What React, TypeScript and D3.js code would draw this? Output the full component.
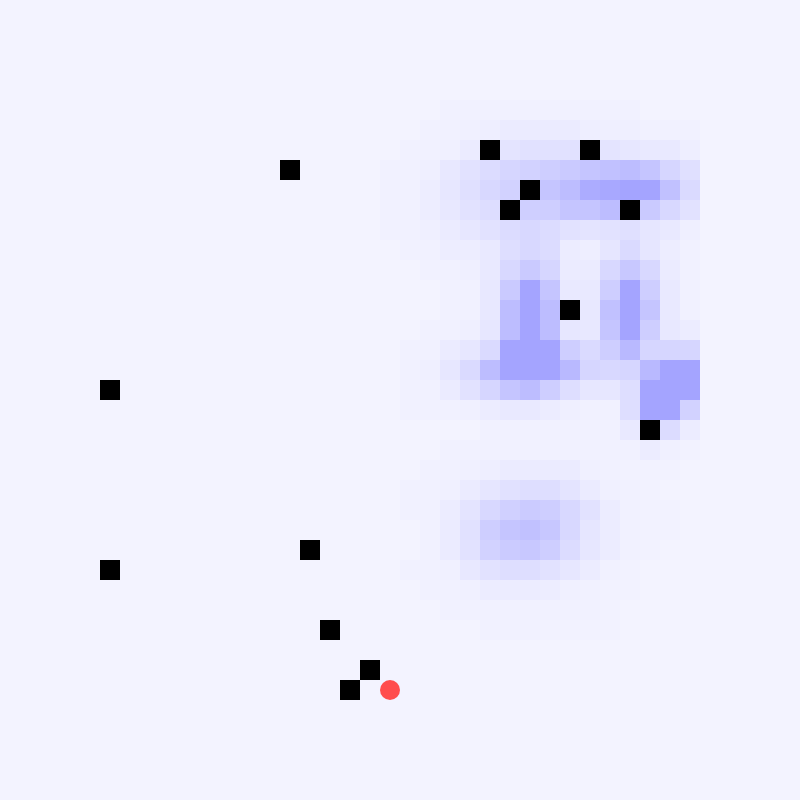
import { useEffect, useRef } from 'react';
import * as d3 from 'd3';

// grid is 40 x 40 cells
const gridCols = d3.range(40);
const gridRows = d3.range(40);

// heat block, starts at column 19, row 5 (values 0..10)
const heatColStart = 19;
const heatRowStart = 5;
const heatValues: number[][] = [
  [0, 0, 0, 0.3, 0.3, 0.3, 0.3, 0.3, 0.3, 0.3, 0.3, 0.3, 0.3, 0, 0, 0],
  [0, 0, 0.2, 0.3, 0.4, 0.6, 1, 1, 1, 1, 0.6, 0.5, 0.5, 0.3, 0.3, 0.3],
  [0, 0.2, 0.2, 0.4, 1, 1.8, 1.8, 2.2, 2.2, 2.2, 2, 1.8, 1.5, 1.2, 1.2, 0.6],
  [0.3, 0.3, 0.5, 1.3, 2, 2.8, 3.5, 4, 4.5, 5, 5.5, 6, 6.5, 5.5, 3.5, 2.3],
  [0.3, 0.3, 0.7, 1.5, 2.3, 3.2, 4, 4.5, 5.5, 6.5, 8.5, 9, 9.5, 9.5, 6, 3],
  [0.3, 0.3, 0.7, 1.3, 2, 2.7, 4, 4.3, 4.5, 5.5, 5.5, 6.5, 6, 5, 3.2, 2],
  [0.3, 0.3, 0.5, 1, 1.5, 2, 2.8, 3.2, 2.8, 2, 1.8, 2, 2.3, 1.6, 1.2, 0.5],
  [0, 0.3, 0.3, 0.7, 0.7, 1.2, 2.5, 3.3, 2.8, 0.8, 0.6, 1.6, 3, 1.6, 0.7, 0.3],
  [0, 0, 0.3, 0.3, 0.5, 1.2, 3.3, 5, 3.5, 1, 1, 3.3, 5.2, 3.3, 1, 0.3],
  [0, 0, 0, 0.2, 0.3, 1.3, 5, 9.5, 5.5, 1.2, 1.2, 4.5, 9.5, 4.5, 1.2, 0.3],
  [0, 0, 0, 0.2, 0.3, 1.3, 6.5, 9.5, 6.5, 1.5, 1.3, 6, 9.5, 5.5, 1.2, 0.3],
  [0, 0, 0.2, 0.3, 0.5, 1.5, 6.5, 9.5, 6.5, 1.5, 1.3, 5.5, 9.5, 4.5, 1.3, 0.8],
  [0, 0.2, 0.3, 1, 1.5, 3, 9.5, 9.5, 9.5, 4.5, 3, 4.5, 7, 3.5, 3.5, 3.5],
  [0, 0.2, 0.5, 1.5, 3, 6.5, 9.5, 9.5, 9.5, 7, 3.5, 3.3, 3.5, 7, 9.5, 9.5],
  [0, 0.2, 0.3, 1, 2, 3.5, 5.5, 6.5, 4.5, 2.5, 1.5, 1.5, 2.5, 9.5, 9.5, 9.5],
  [0, 0.2, 0.2, 0.3, 0.4, 0.8, 1.2, 1.2, 0.8, 0.5, 0.2, 0.3, 2.5, 9.5, 9.5, 4],
  [0, 0, 0, 0, 0, 0.2, 0.2, 0.2, 0.2, 0.2, 0.2, 0.2, 1.2, 3, 2.8, 0.8],
  [0, 0, 0, 0.2, 0.2, 0.2, 0.3, 0.3, 0.2, 0.2, 0.2, 0.2, 0.3, 0.8, 0.4, 0.1],
  [0, 0, 0.2, 0.3, 0.4, 0.6, 1, 1, 1, 1, 0.4, 0.2, 0.1, 0.1, 0.1, 0],
  [0, 0.2, 0.2, 0.4, 1, 1.6, 2.2, 2.5, 2.5, 1.8, 1, 0.4, 0.2, 0.1, 0, 0],
  [0, 0.2, 0.3, 0.8, 1.8, 3.2, 4.2, 4.8, 4.5, 3.2, 2, 0.8, 0.2, 0.1, 0.1, 0],
  [0, 0, 0.3, 1, 2.2, 4.5, 5.5, 6, 5.3, 3.3, 1.6, 0.8, 0.2, 0.1, 0.1, 0],
  [0, 0, 0.3, 1, 2, 4, 4.8, 5.2, 4.5, 2.8, 1.5, 0.8, 0.2, 0.1, 0, 0],
  [0, 0.2, 0.2, 0.4, 1.3, 2, 2.5, 2.5, 2, 1.5, 0.8, 0.2, 0.1, 0, 0, 0],
  [0, 0, 0.2, 0.2, 0.4, 0.8, 0.8, 0.8, 0.7, 0.4, 0.2, 0.1, 0.1, 0, 0, 0],
  [0, 0, 0, 0.2, 0.2, 0.3, 0.3, 0.3, 0.3, 0.2, 0.2, 0.1, 0, 0, 0, 0],
  [0, 0, 0, 0, 0, 0.2, 0.2, 0.2, 0.1, 0.1, 0.1, 0.1, 0, 0, 0, 0],
];

// black cells [col, row]
const blockCols = [24, 29, 14, 26, 25, 31, 28, 5, 32, 15, 5, 16, 18, 17];
const blockRows = [7, 7, 8, 9, 10, 10, 15, 19, 21, 27, 28, 31, 33, 34];

// red marker [col, row]
const markerCol = 19;
const markerRow = 34;

const App = () => {
  const svgRef = useRef<SVGSVGElement>(null);

  useEffect(() => {
    const width = 800;
    const height = 800;

    const svg = d3.select(svgRef.current);
    svg.selectAll('*').remove();
    svg.attr('width', width).attr('height', height);

    const x = d3.scaleBand<number>().domain(gridCols).range([0, width]);
    const y = d3.scaleBand<number>().domain(gridRows).range([0, height]);

    const color = d3
      .scaleLinear<string>()
      .domain([0, 10])
      .range(['#f3f3ff', '#a0a0ff'])
      .clamp(true);

    svg.append('rect')
      .attr('width', width)
      .attr('height', height)
      .attr('fill', '#f3f3ff');

    // heat cells
    const cells: { c: number; r: number; v: number }[] = [];
    heatValues.forEach((row, i) => {
      row.forEach((v, j) => {
        cells.push({ c: heatColStart + j, r: heatRowStart + i, v });
      });
    });

    svg.append('g')
      .selectAll('rect')
      .data(cells)
      .enter()
      .append('rect')
      .attr('x', (d) => x(d.c)!)
      .attr('y', (d) => y(d.r)!)
      .attr('width', x.bandwidth())
      .attr('height', y.bandwidth())
      .attr('fill', (d) => color(d.v));

    // black blocks
    svg.append('g')
      .selectAll('rect')
      .data(blockCols.map((c, i) => ({ c, r: blockRows[i] })))
      .enter()
      .append('rect')
      .attr('x', (d) => x(d.c)!)
      .attr('y', (d) => y(d.r)!)
      .attr('width', x.bandwidth())
      .attr('height', y.bandwidth())
      .attr('fill', '#000');

    // red marker
    svg.append('circle')
      .attr('cx', x(markerCol)! + x.bandwidth() / 2)
      .attr('cy', y(markerRow)! + y.bandwidth() / 2)
      .attr('r', x.bandwidth() / 2)
      .attr('fill', '#ff4d4d');
  }, []);

  return (
    <div style={{ position: 'fixed', left: 0, top: 0, width: 800, height: 800 }}>
      <svg ref={svgRef} style={{ display: 'block' }}></svg>
    </div>
  );
};

export default App;
